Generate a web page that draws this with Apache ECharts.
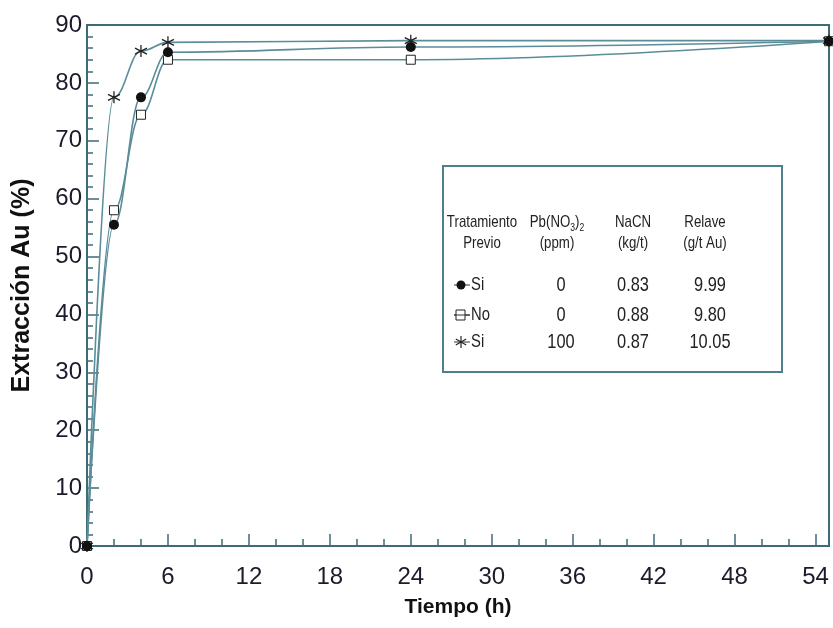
<!DOCTYPE html>
<html>
<head>
<meta charset="utf-8">
<script src="https://cdn.jsdelivr.net/npm/echarts@6/dist/echarts.min.js"></script>
<style>
  html, body { margin: 0; padding: 0; background: #fff; }
  #main { width: 833px; height: 628px; }
</style>
</head>
<body>
<div id="main"></div>
<script>
// tiempo (h) y extraccion Au (%)
const tiempo = [0, 2, 4, 6, 24, 55];
const extSi0 = [0, 55.5, 77.5, 85.3, 86.2, 87.2];     // Si, 0 ppm
const extNo0 = [0, 58, 74.5, 84, 84, 87.2];           // No, 0 ppm
const extSi100 = [0, 77.5, 85.5, 87, 87.3, 87.3];     // Si, 100 ppm

const xTicks = [0, 6, 12, 18, 24, 30, 36, 42, 48, 54];
const yTicks = [0, 10, 20, 30, 40, 50, 60, 70, 80, 90];

const headers = [
  ['Tratamiento', 'Previo'],
  ['Pb(NO{s|3}){s|2}', '(ppm)'],
  ['NaCN', '(kg/t)'],
  ['Relave', '(g/t Au)']
];
const filas = [
  ['Si', '0', '0.83', '9.99'],
  ['No', '0', '0.88', '9.80'],
  ['Si', '100', '0.87', '10.05']
];

const FONT = "'Liberation Sans', Arial, sans-serif";
const AXIS = '#3e6b78';
const LINEA = '#5b8d99';
const STAR = 'path://M0,-10L0,10M-8.7,-5L8.7,5M-8.7,5L8.7,-5';
const SX = 0.78; // texto estrecho

function pares(ys) {
  return tiempo.map((t, i) => [t, ys[i]]);
}

const chart = echarts.init(document.getElementById('main'));

// leyenda (tabla) como graficos
let leyenda = [];
leyenda.push({
  type: 'rect', shape: {x: 443, y: 166, width: 339, height: 206},
  style: {fill: '#fff', stroke: '#4f7f8b', lineWidth: 2}, z: 10
});
const colX = [482, 557, 633, 705];
headers.forEach((h, i) => {
  leyenda.push({
    type: 'text', x: colX[i], y: 222, z: 11, scaleX: SX,
    style: {text: h[0], font: '17px ' + FONT, fill: '#222', align: 'center', verticalAlign: 'middle',
      rich: {s: {fontSize: 11, fontFamily: FONT, fill: '#222', padding: [12, 0, 0, 0]}}}
  });
  leyenda.push({
    type: 'text', x: colX[i], y: 243, z: 11, scaleX: SX,
    style: {text: h[1], font: '17px ' + FONT, fill: '#222', align: 'center', verticalAlign: 'middle'}
  });
});
const filaY = [285, 315, 342];
filas.forEach((f, r) => {
  const y = filaY[r];
  leyenda.push({type: 'line', shape: {x1: 454, y1: y, x2: 470, y2: y}, style: {stroke: '#333', lineWidth: 1}, z: 11});
  if (r === 0) {
    leyenda.push({type: 'circle', shape: {cx: 461, cy: y, r: 4.5}, style: {fill: '#111'}, z: 12});
  } else if (r === 1) {
    leyenda.push({type: 'rect', shape: {x: 456, y: y - 5, width: 9, height: 10}, style: {fill: '#fff', stroke: '#222', lineWidth: 1}, z: 12});
    leyenda.push({type: 'line', shape: {x1: 454, y1: y, x2: 470, y2: y}, style: {stroke: '#333', lineWidth: 1}, z: 13});
  } else {
    leyenda.push({type: 'line', shape: {x1: 461, y1: y - 6, x2: 461, y2: y + 6}, style: {stroke: '#222', lineWidth: 1.2}, z: 12});
    leyenda.push({type: 'line', shape: {x1: 455.8, y1: y - 3, x2: 466.2, y2: y + 3}, style: {stroke: '#222', lineWidth: 1.2}, z: 12});
    leyenda.push({type: 'line', shape: {x1: 455.8, y1: y + 3, x2: 466.2, y2: y - 3}, style: {stroke: '#222', lineWidth: 1.2}, z: 12});
  }
  leyenda.push({
    type: 'text', x: 471, y: y, z: 11, scaleX: SX,
    style: {text: f[0], font: '19px ' + FONT, fill: '#222', align: 'left', verticalAlign: 'middle'}
  });
  for (let c = 1; c < 4; c++) {
    leyenda.push({
      type: 'text', x: colX[c] + (c === 3 ? 5 : (c === 1 ? 4 : 0)), y: y, z: 11, scaleX: SX,
      style: {text: f[c], font: '21px ' + FONT, fill: '#222', align: 'center', verticalAlign: 'middle'}
    });
  }
});

function serie(nombre, datos, simbolo, tam, estilo, z) {
  return {
    name: nombre,
    type: 'line',
    data: pares(datos),
    smooth: 0.4,
    smoothMonotone: 'x',
    symbol: simbolo,
    symbolSize: tam,
    showAllSymbol: true,
    clip: false,
    lineStyle: {color: LINEA, width: 1.6},
    itemStyle: estilo,
    z: z
  };
}

chart.setOption({
  backgroundColor: '#fff',
  animation: false,
  grid: {left: 87, right: 4, top: 25, bottom: 82, show: true, borderColor: AXIS, borderWidth: 2},
  xAxis: {
    type: 'value', min: 0, max: 55, interval: 6,
    name: 'Tiempo (h)', nameLocation: 'middle', nameGap: 51,
    nameTextStyle: {fontFamily: FONT, fontWeight: 'bold', fontSize: 21, color: '#111'},
    axisLine: {show: true, lineStyle: {color: AXIS, width: 2}},
    axisTick: {show: true, inside: true, length: 12, lineStyle: {color: AXIS, width: 1.5}},
    minorTick: {show: true, splitNumber: 3, length: 7, lineStyle: {color: AXIS, width: 1.5}},
    splitLine: {show: false},
    axisLabel: {fontFamily: FONT, fontSize: 24, color: '#1b1b2b', margin: 19, showMaxLabel: false,
      formatter: v => xTicks.indexOf(v) >= 0 ? String(v) : ''}
  },
  yAxis: {
    type: 'value', min: 0, max: 90, interval: 10,
    name: 'Extracción Au (%)', nameLocation: 'middle', nameGap: 52,
    nameTextStyle: {fontFamily: FONT, fontWeight: 'bold', fontSize: 25, color: '#111'},
    axisLine: {show: true, lineStyle: {color: AXIS, width: 2}},
    axisTick: {show: true, inside: true, length: 12, lineStyle: {color: AXIS, width: 1.5}},
    minorTick: {show: true, splitNumber: 5, length: 6, lineStyle: {color: AXIS, width: 1.5}},
    splitLine: {show: false},
    axisLabel: {fontFamily: FONT, fontSize: 24, color: '#1b1b2b', margin: 5,
      formatter: v => yTicks.indexOf(v) >= 0 ? String(v) : ''}
  },
  series: [
    serie('No 0', extNo0, 'rect', 9, {color: '#fff', borderColor: '#222', borderWidth: 1}, 3),
    serie('Si 100', extSi100, STAR, 12, {color: 'rgba(0,0,0,0)', borderColor: '#222', borderWidth: 1.3}, 4),
    serie('Si 0', extSi0, 'circle', 10, {color: '#111'}, 5)
  ],
  graphic: leyenda
});
</script>
</body>
</html>
